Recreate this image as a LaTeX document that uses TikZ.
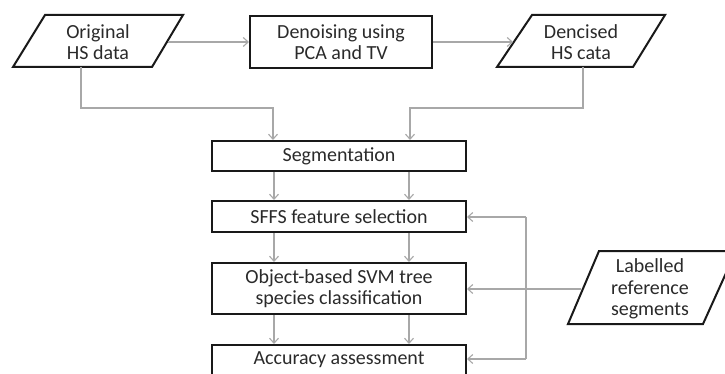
\documentclass[tikz,border=0pt]{standalone}
\usepackage{fontspec}
\setmainfont{Carlito}
\usetikzlibrary{arrows.meta}
\definecolor{linegray}{HTML}{A8A8A8}
\definecolor{txtgray}{HTML}{2A2A2A}
\begin{document}
\begin{tikzpicture}[x=1pt,y=-1pt,
  every node/.style={font=\fontsize{20}{21.5}\selectfont, text=txtgray, align=center, inner sep=0pt},
  procbox/.style={draw=black!90, line width=2pt},
  databox/.style={draw=black!90, line width=2pt, line join=miter},
  arr/.style={draw=linegray, line width=1.2pt, -{Straight Barb[length=5pt,width=9pt,line width=1.1pt]}},
  ln/.style={draw=linegray, line width=1.2pt}]
\useasboundingbox (0,0) rectangle (725,374);

% data (parallelogram) shapes
\draw[databox] (13,67) -- (45,15) -- (183,15) -- (152,67) -- cycle;
\node (orig) at (98,42) {Original\\HS data};
\draw[databox] (497,67) -- (532,15) -- (665,15) -- (633,67) -- cycle;
\node (dens) at (581,42) {Dencised\\HS cata};
\draw[databox] (568,324) -- (599,251) -- (736,251) -- (703,324) -- cycle;
\node (lab) at (650,289) {Labelled\\reference\\segments};

% process boxes
\node[procbox, minimum width=182pt, minimum height=52pt] (den) at (341,42) {Denoising using\\PCA and TV};
\node[procbox, minimum width=254pt, minimum height=30pt] (seg) at (339,156) {Segmentation};
\node[procbox, minimum width=254pt, minimum height=31pt] (sffs) at (339,216.5) {SFFS feature selection};
\node[procbox, minimum width=254pt, minimum height=51pt] (obj) at (339,288.5) {Object-based SVM tree\\species classification};
\node[procbox, minimum width=254pt, minimum height=30pt] (acc) at (339,360) {Accuracy assessment};

% connector anchor points
\coordinate (origR) at (168,42);
\coordinate (densL) at (513,42);
\coordinate (origB) at (81,67);
\coordinate (densB) at (583,67);
\coordinate (labL) at (581,289);
\coordinate (fbT) at (526,217);
\coordinate (fbB) at (526,359);

% top row
\draw[arr] (origR) -- (den.west);
\draw[arr] (den.east) -- (densL);
\draw[arr] (origB) |- (273,108) -- ([xshift=-66pt]seg.north);
\draw[arr] (densB) |- (410,108) -- ([xshift=71pt]seg.north);

% vertical chain
\foreach \a/\b in {seg/sffs, sffs/obj, obj/acc}{
  \draw[arr] ([xshift=-65pt]\a.south) -- ([xshift=-65pt]\b.north);
  \draw[arr] ([xshift=70pt]\a.south) -- ([xshift=70pt]\b.north);
}

% feedback and reference
\draw[ln] (fbT) -- (fbB);
\draw[arr] (fbT) -- (sffs.east |- fbT);
\draw[arr] (fbB) -- (acc.east |- fbB);
\draw[arr] (labL) -- (obj.east |- labL);
\end{tikzpicture}
\end{document}
